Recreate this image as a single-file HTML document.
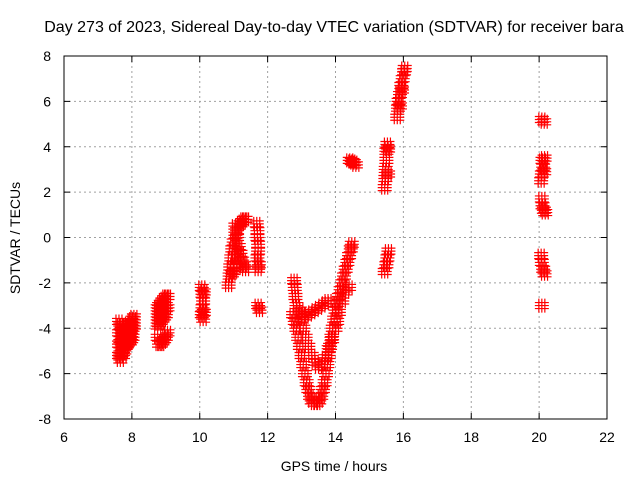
<!DOCTYPE html>
<html><head><meta charset="utf-8"><style>
body{margin:0;background:#fff}
svg{display:block;font-family:"Liberation Sans",sans-serif}
</style></head><body>
<svg id="c" width="640" height="480">
<rect width="640" height="480" fill="#fff"/>
<text x="334" y="32" text-anchor="middle" font-size="16">Day 273 of 2023, Sidereal Day-to-day VTEC variation (SDTVAR) for receiver bara</text>
<text x="334" y="471" text-anchor="middle" font-size="14">GPS time / hours</text>
<text transform="translate(20,238) rotate(-90)" text-anchor="middle" font-size="14">SDTVAR / TECUs</text>
<g id="grid"></g><g id="pts"></g><g id="axes"></g>
</svg>
<script>
const xTicks=[6,8,10,12,14,16,18,20,22];
const yTicks=[-8,-6,-4,-2,0,2,4,6,8];
const tr1=[[7.62,-3.7],[7.62,-4.2],[7.62,-4.7],[7.62,-5.2],[7.66,-3.9],[7.66,-4.5],[7.66,-5.0],[7.66,-5.4],[7.7,-4.1],[7.7,-4.6],[7.7,-5.1],[7.74,-3.9],[7.74,-4.3],[7.74,-4.8],[7.74,-5.2],[7.78,-4.2],[7.78,-4.6],[7.78,-5.0],[7.82,-4.0],[7.82,-4.4],[7.82,-4.8],[7.86,-3.9],[7.86,-4.3],[7.86,-4.7],[7.9,-3.8],[7.9,-4.2],[7.9,-4.6],[7.94,-3.9],[7.94,-4.3],[7.94,-4.6],[7.98,-3.7],[7.98,-4.1],[7.98,-4.5],[8.02,-3.6],[8.02,-4.0],[8.02,-4.4],[8.06,-3.5],[8.06,-3.9]];
const tr2=[[8.76,-3.1],[8.76,-3.5],[8.76,-3.9],[8.76,-4.4],[8.8,-3.0],[8.8,-3.4],[8.8,-3.8],[8.8,-4.7],[8.85,-2.9],[8.85,-3.3],[8.85,-3.7],[8.85,-4.7],[8.9,-2.8],[8.9,-3.2],[8.9,-3.6],[8.9,-4.6],[8.95,-2.7],[8.95,-3.1],[8.95,-3.5],[8.95,-4.5],[9.0,-2.6],[9.0,-3.0],[9.0,-3.4],[9.0,-4.4],[9.05,-2.6],[9.05,-3.1],[9.05,-4.2]];
const tr3=[[10.06,-2.2],[10.08,-2.5],[10.1,-2.8],[10.08,-3.1],[10.06,-3.4],[10.1,-3.6],[10.12,-2.4],[10.12,-3.3]];
const tr4=[[10.85,-2.1],[10.88,-1.7],[10.9,-1.3],[10.93,-0.9],[10.96,-0.5],[11.0,-0.2],[11.05,0.1],[11.1,0.3],[11.15,0.5],[11.2,0.6],[11.25,0.7],[11.3,0.8],[11.35,0.8],[10.95,-1.6],[11.0,-1.2],[11.05,-0.9],[11.1,-0.6],[11.15,-0.4],[11.2,-0.7],[11.25,-1.0],[11.3,-1.2],[11.35,-1.4],[11.05,0.5],[11.1,0.0],[11.0,-1.5],[11.1,-1.3],[11.68,0.6],[11.7,0.3],[11.7,0.0],[11.72,-0.3],[11.72,-0.6],[11.7,-0.9],[11.74,-1.2],[11.72,-1.4],[11.72,-3.0],[11.76,-3.2]];
const tr5=[[12.78,-1.9],[12.8,-2.2],[12.82,-2.6],[12.85,-3.0],[12.75,-3.4],[12.8,-3.7],[12.85,-4.0],[12.9,-4.4],[12.95,-4.8],[13.0,-5.2],[13.05,-5.6],[13.1,-6.0],[13.15,-6.4],[13.2,-6.7],[13.25,-7.0],[13.3,-7.2],[13.38,-7.3],[13.45,-7.3],[13.52,-7.2],[13.58,-7.0],[13.63,-6.7],[13.68,-6.4],[13.72,-6.0],[13.76,-5.6],[13.8,-5.2],[13.84,-4.8],[13.88,-4.4],[13.92,-4.0],[13.96,-3.6],[14.0,-3.2],[14.05,-2.9],[14.1,-2.6],[14.15,-2.3],[14.2,-2.0],[14.25,-1.7],[14.3,-1.4],[14.35,-1.1],[14.4,-0.8],[14.45,-0.5],[14.48,-0.3],[12.95,-3.2],[13.0,-3.6],[13.05,-4.0],[13.12,-4.4],[13.2,-4.8],[13.3,-5.2],[13.4,-5.5],[13.5,-5.7],[13.6,-5.6],[13.7,-5.3],[13.8,-4.9],[13.9,-4.5],[14.0,-4.0],[14.05,-3.7],[13.0,-3.4],[13.1,-3.5],[13.2,-3.4],[13.3,-3.3],[13.4,-3.2],[13.5,-3.1],[13.6,-3.0],[13.7,-2.9],[13.78,-2.8],[14.1,-3.3],[14.2,-2.8],[14.3,-2.4],[14.4,-2.2]];
const tr6=[[14.42,3.4],[14.48,3.35],[14.54,3.3],[14.6,3.2],[15.45,2.2],[15.47,2.6],[15.48,3.0],[15.5,3.4],[15.5,3.8],[15.55,3.9],[15.53,4.1],[15.55,2.8],[15.45,-1.5],[15.5,-1.2],[15.53,-0.9],[15.56,-0.6],[15.82,5.3],[15.84,5.7],[15.86,6.0],[15.9,6.3],[15.94,6.7],[15.98,7.0],[16.02,7.3],[16.04,7.45],[15.9,5.8],[15.96,6.5],[20.08,5.2],[20.15,5.1],[20.1,3.4],[20.12,3.1],[20.08,2.8],[20.06,2.5],[20.16,3.5],[20.15,2.9],[20.08,1.7],[20.1,1.4],[20.14,1.2],[20.18,1.1],[20.06,-0.8],[20.08,-1.1],[20.12,-1.4],[20.16,-1.6],[20.08,-3.0]];
const X=v=>64+(v-6)*(543/16), Y=v=>419-(v+8)*(363/16);
const NS="http://www.w3.org/2000/svg";
const mk=(t,a,p)=>{const e=document.createElementNS(NS,t);for(const k in a)e.setAttribute(k,a[k]);p.appendChild(e);return e;};
const g=document.getElementById('grid'),ax=document.getElementById('axes'),pts=document.getElementById('pts');
xTicks.forEach(t=>{const x=X(t);
 if(t>6&&t<22){const l=mk('line',{x1:x,x2:x,y1:56,y2:419,stroke:'#a0a0a0','stroke-dasharray':'2,3'},g);}
 mk('line',{x1:x,x2:x,y1:419,y2:413,stroke:'#000'},ax);mk('line',{x1:x,x2:x,y1:56,y2:62,stroke:'#000'},ax);
 const tx=mk('text',{x:x,y:442,'text-anchor':'middle','font-size':'14'},ax);tx.textContent=t;
 });
yTicks.forEach(t=>{const y=Y(t);
 if(t>-8&&t<8){const l=mk('line',{x1:64,x2:607,y1:y,y2:y,stroke:'#a0a0a0','stroke-dasharray':'2,3'},g);}
 mk('line',{x1:64,x2:70,y1:y,y2:y,stroke:'#000'},ax);mk('line',{x1:607,x2:601,y1:y,y2:y,stroke:'#000'},ax);
 const tx=mk('text',{x:51,y:y+5,'text-anchor':'end','font-size':'14'},ax);tx.textContent=t;
 });
const fr=mk('rect',{x:64,y:56,width:543,height:363,fill:'none',stroke:'#000'},ax);

[tr1,tr2,tr3,tr4,tr5,tr6].forEach(tr=>{let d='';
 tr.forEach(p=>{const x=X(p[0]),y=Y(p[1]);
  for(let dx=-3;dx<=3;dx+=3)for(let dy=-3;dy<=3;dy+=3){const cx=x+dx,cy=y+dy;d+=`M${cx-4},${cy}h8M${cx},${cy-4}v8`;}});
 const e=mk('path',{d:d,stroke:'#ff0000','stroke-width':'1.2',fill:'none'},pts);
 });
</script>
</body></html>
